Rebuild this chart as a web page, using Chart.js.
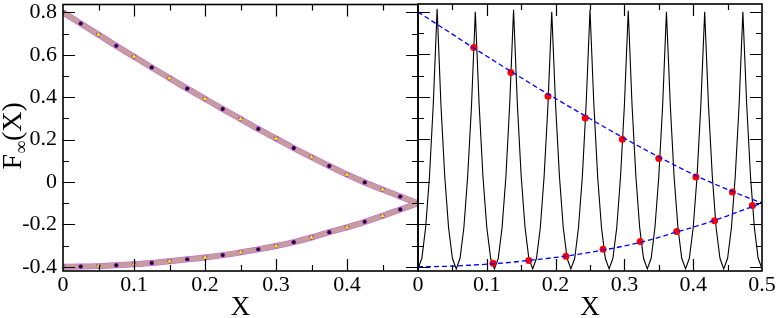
<!DOCTYPE html>
<html>
<head>
<meta charset="utf-8">
<script src="https://cdn.jsdelivr.net/npm/chart.js@4"></script>
<style>
  html, body { margin: 0; padding: 0; background: #fff; }
  #wrap { position: relative; width: 776px; height: 318px; }
  #wrap canvas { position: absolute; left: 0; top: 0; }
</style>
</head>
<body>
<div id="wrap">
  <canvas id="leftChart" width="776" height="318"></canvas>
  <canvas id="rightChart" width="776" height="318"></canvas>
</div>
<script>
// fixed-point branches
const curveX = [0, 0.025, 0.05, 0.075, 0.1, 0.125, 0.15, 0.175, 0.2, 0.225, 0.25,
                0.275, 0.3, 0.325, 0.35, 0.375, 0.4, 0.425, 0.45, 0.475, 0.5];
const upperY = [0.800, 0.747, 0.695, 0.642, 0.591, 0.540, 0.490, 0.440, 0.392, 0.344, 0.297,
                0.250, 0.205, 0.160, 0.117, 0.075, 0.035, -0.002, -0.036, -0.069, -0.100];
const lowerY = [-0.400, -0.399, -0.397, -0.393, -0.388, -0.382, -0.374, -0.365, -0.356, -0.345, -0.332,
                -0.318, -0.302, -0.284, -0.262, -0.237, -0.214, -0.188, -0.160, -0.130, -0.100];

// oscillating black curve (right panel)
const oscX = [0, 0.0056, 0.0111, 0.0167, 0.0222, 0.0278, 0.0333, 0.0389, 0.0444, 0.05,
              0.0556, 0.0611, 0.0667, 0.0722, 0.0778, 0.0833, 0.0889, 0.0944, 0.1, 0.1056,
              0.1111, 0.1167, 0.1222, 0.1278, 0.1333, 0.1389, 0.1444, 0.15, 0.1556, 0.1611,
              0.1667, 0.1722, 0.1778, 0.1833, 0.1889, 0.1944, 0.2, 0.2056, 0.2111, 0.2167,
              0.2222, 0.2278, 0.2333, 0.2389, 0.2444, 0.25, 0.2556, 0.2611, 0.2667, 0.2722,
              0.2778, 0.2833, 0.2889, 0.2944, 0.3, 0.3056, 0.3111, 0.3167, 0.3222, 0.3278,
              0.3333, 0.3389, 0.3444, 0.35, 0.3556, 0.3611, 0.3667, 0.3722, 0.3778, 0.3833,
              0.3889, 0.3944, 0.4, 0.4056, 0.4111, 0.4167, 0.4222, 0.4278, 0.4333, 0.4389,
              0.4444, 0.45, 0.4556, 0.4611, 0.4667, 0.4722, 0.4778, 0.4833, 0.4889, 0.4944,
              0.5];
const oscY = [-0.41, -0.36, -0.215, 0.025, 0.365, 0.815, 0.365, 0.025, -0.215, -0.36,
              -0.41, -0.36, -0.215, 0.025, 0.36, 0.80, 0.36, 0.025, -0.215, -0.36,
              -0.41, -0.36, -0.215, 0.025, 0.365, 0.81, 0.365, 0.025, -0.215, -0.36,
              -0.41, -0.36, -0.215, 0.025, 0.36, 0.80, 0.36, 0.025, -0.215, -0.36,
              -0.41, -0.36, -0.215, 0.025, 0.365, 0.81, 0.365, 0.025, -0.215, -0.36,
              -0.41, -0.36, -0.215, 0.025, 0.36, 0.805, 0.36, 0.025, -0.215, -0.36,
              -0.41, -0.36, -0.215, 0.025, 0.36, 0.80, 0.36, 0.025, -0.215, -0.36,
              -0.41, -0.36, -0.215, 0.025, 0.36, 0.80, 0.36, 0.025, -0.215, -0.36,
              -0.41, -0.36, -0.215, 0.025, 0.36, 0.80, 0.36, 0.025, -0.215, -0.36,
              -0.41];

// red dots where the black curve crosses the branches
const upperDotX = [0.081, 0.135, 0.189, 0.243, 0.297, 0.350, 0.404, 0.457, 0.486];
const upperDotY = [0.632, 0.515, 0.403, 0.300, 0.200, 0.110, 0.022, -0.048, -0.112];
const lowerDotX = [0.109, 0.161, 0.215, 0.269, 0.323, 0.376, 0.431];
const lowerDotY = [-0.384, -0.370, -0.351, -0.318, -0.281, -0.234, -0.183];

// axes
const xTickVals = [0, 0.1, 0.2, 0.3, 0.4, 0.5];
const leftXLabels = ['0', '0.1', '0.2', '0.3', '0.4', ''];
const rightXLabels = ['0', '0.1', '0.2', '0.3', '0.4', '0.5'];
const yTickVals = [-0.4, -0.2, 0, 0.2, 0.4, 0.6, 0.8];
const yTickLabels = ['-0.4', '-0.2', '0', '0.2', '0.4', '0.6', '0.8'];
const xMinor = [0.05, 0.15, 0.25, 0.35, 0.45];
const xMajor = [0.1, 0.2, 0.3, 0.4];
const yMinor = [-0.3, -0.1, 0.1, 0.3, 0.5, 0.7];
const yMajor = [-0.4, -0.2, 0, 0.2, 0.4, 0.6, 0.8];
const yMin = -0.42, yMax = 0.837;

const serif = '"Liberation Serif", "Times New Roman", Times, serif';

function pts(xs, ys) {
    return xs.map((x, i) => ({ x: x, y: ys[i] }));
}
function every(arr, start) {
    return arr.filter((p, i) => i % 2 === start);
}

const upperPts = pts(curveX, upperY);
const lowerPts = pts(curveX, lowerY);

// frame and inward ticks on all four sides
const framePlugin = {
    id: 'frame',
    afterDatasetsDraw(chart) {
        const ctx = chart.ctx;
        const { left, right, top, bottom } = chart.chartArea;
        const xs = chart.scales.x, ys = chart.scales.y;
        ctx.save();
        ctx.strokeStyle = '#000';
        ctx.lineWidth = 1.2;
        ctx.beginPath();
        xMajor.concat(xMinor).forEach(v => {
            const len = xMajor.includes(v) ? 12 : 6;
            const px = Math.round(xs.getPixelForValue(v)) + 0.5;
            ctx.moveTo(px, bottom); ctx.lineTo(px, bottom - len);
            ctx.moveTo(px, top); ctx.lineTo(px, top + len);
        });
        yMajor.concat(yMinor).forEach(v => {
            const len = yMajor.includes(v) ? 12 : 6;
            const py = Math.round(ys.getPixelForValue(v)) + 0.5;
            ctx.moveTo(left, py); ctx.lineTo(left + len, py);
            ctx.moveTo(right, py); ctx.lineTo(right - len, py);
        });
        ctx.stroke();
        ctx.lineWidth = 1.6;
        ctx.strokeRect(left, top, right - left, bottom - top);
        ctx.restore();
    }
};

// rotated y title with subscript infinity
const yTitlePlugin = {
    id: 'ytitle',
    afterDraw(chart) {
        const ctx = chart.ctx;
        const { top, bottom } = chart.chartArea;
        const big = '28px ' + serif, small = '18px ' + serif;
        ctx.save();
        ctx.font = big;
        const wF = ctx.measureText('F').width;
        const wX = ctx.measureText('(X)').width;
        ctx.font = small;
        const wInf = ctx.measureText('\u221E').width;
        const total = wF + wInf + wX;
        ctx.translate(21, (top + bottom) / 2 - 2);
        ctx.rotate(-Math.PI / 2);
        ctx.fillStyle = '#000';
        ctx.textBaseline = 'alphabetic';
        let x = -total / 2;
        ctx.font = big;
        ctx.fillText('F', x, 0);
        x += wF;
        ctx.font = small;
        ctx.fillText('\u221E', x, 6);
        x += wInf;
        ctx.font = big;
        ctx.fillText('(X)', x, 0);
        ctx.restore();
    }
};

function xAxis(labels) {
    return {
        type: 'linear', min: 0, max: 0.5,
        grid: { display: false, drawTicks: false },
        border: { display: false },
        afterBuildTicks: s => { s.ticks = xTickVals.map(v => ({ value: v })); },
        afterFit: s => { s.height = 47; s.paddingLeft = 0; s.paddingRight = 0; },
        ticks: {
            autoSkip: false, maxRotation: 0, padding: 1, color: '#000',
            font: { family: serif, size: 22 },
            callback: (v, i) => labels[i]
        },
        title: {
            display: true, text: 'X', color: '#000', padding: 0,
            font: { family: serif, size: 27, lineHeight: 0.74 }
        }
    };
}

function yAxis(show) {
    return {
        type: 'linear', min: yMin, max: yMax, display: show,
        grid: { display: false, drawTicks: false },
        border: { display: false },
        afterBuildTicks: s => { s.ticks = yTickVals.map(v => ({ value: v })); },
        afterFit: s => { s.width = show ? 63 : 0; s.paddingTop = 0; s.paddingBottom = 0; },
        ticks: {
            padding: 6, color: '#000',
            font: { family: serif, size: 22 },
            callback: (v, i) => yTickLabels[i]
        }
    };
}

const common = {
    responsive: false,
    animation: false,
    events: [],
    plugins: { legend: { display: false }, tooltip: { enabled: false } }
};

new Chart(document.getElementById('leftChart').getContext('2d'), {
    type: 'scatter',
    data: {
        datasets: [
            {
                data: every(upperPts, 1).concat(every(lowerPts, 1)),
                pointRadius: 1.7, pointBackgroundColor: '#000', pointBorderWidth: 0
            },
            {
                data: every(upperPts, 0).concat(every(lowerPts, 0)),
                pointStyle: 'triangle', pointRadius: 2.4,
                pointBackgroundColor: '#ffff00', pointBorderColor: '#d8d800', pointBorderWidth: 0.5
            },
            {
                data: upperPts.concat(lowerPts),
                pointRadius: 2.4, pointBackgroundColor: '#a020f0', pointBorderWidth: 0
            },
            {
                data: upperPts, showLine: true, pointRadius: 0,
                borderColor: '#c89c9c', borderWidth: 5, cubicInterpolationMode: 'monotone'
            },
            {
                data: lowerPts, showLine: true, pointRadius: 0,
                borderColor: '#c89c9c', borderWidth: 5, cubicInterpolationMode: 'monotone'
            },
            {
                data: upperPts, showLine: true, pointRadius: 0,
                borderColor: '#b868e0', borderWidth: 6, cubicInterpolationMode: 'monotone'
            },
            {
                data: lowerPts, showLine: true, pointRadius: 0,
                borderColor: '#b868e0', borderWidth: 6, cubicInterpolationMode: 'monotone'
            }
        ]
    },
    options: Object.assign({}, common, {
        layout: { padding: { left: 0, right: 358, top: 2, bottom: 0 } },
        scales: { x: xAxis(leftXLabels), y: yAxis(true) }
    }),
    plugins: [framePlugin, yTitlePlugin]
});

new Chart(document.getElementById('rightChart').getContext('2d'), {
    type: 'scatter',
    data: {
        datasets: [
            {
                data: upperPts, showLine: true, pointRadius: 0,
                borderColor: '#0000ff', borderWidth: 1.3, borderDash: [5, 3],
                cubicInterpolationMode: 'monotone'
            },
            {
                data: lowerPts, showLine: true, pointRadius: 0,
                borderColor: '#0000ff', borderWidth: 1.3, borderDash: [5, 3],
                cubicInterpolationMode: 'monotone'
            },
            {
                data: pts(upperDotX, upperDotY).concat(pts(lowerDotX, lowerDotY)),
                pointRadius: 3.5, pointBackgroundColor: '#ff0000', pointBorderWidth: 0
            },
            {
                data: pts(oscX, oscY), showLine: true, pointRadius: 0,
                borderColor: '#000', borderWidth: 1.1
            }
        ]
    },
    options: Object.assign({}, common, {
        layout: { padding: { left: 418, right: 14, top: 2, bottom: 0 } },
        scales: { x: xAxis(rightXLabels), y: yAxis(false) }
    }),
    plugins: [framePlugin]
});
</script>
</body>
</html>
